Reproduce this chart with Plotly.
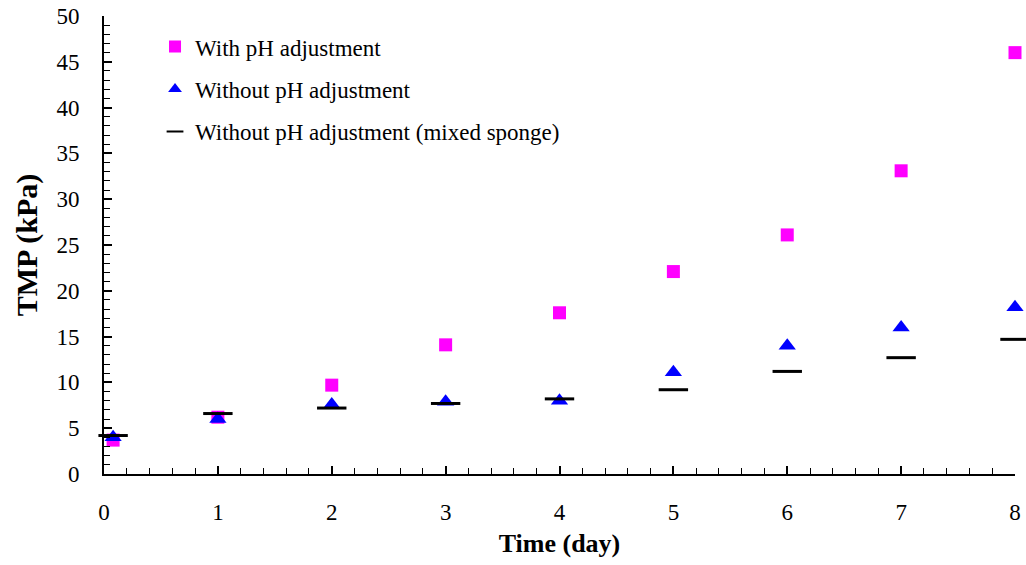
import plotly.graph_objects as go

days = [0.08, 1, 2, 3, 4, 5, 6, 7, 8]
with_ph = [3.7, 6.2, 9.7, 14.1, 17.6, 22.1, 26.1, 33.1, 46.0]
without_ph = [4.0, 6.0, 7.6, 7.9, 8.0, 11.1, 14.0, 16.0, 18.2]
without_ph_mixed = [4.2, 6.6, 7.2, 7.7, 8.2, 9.2, 11.2, 12.7, 14.7]

x_ticks = [0, 1, 2, 3, 4, 5, 6, 7, 8]
y_ticks = [0, 5, 10, 15, 20, 25, 30, 35, 40, 45, 50]

font_family = "Liberation Serif, Times New Roman, serif"

fig = go.Figure()
fig.add_trace(go.Scatter(
    x=days, y=with_ph, mode="markers", name="With pH adjustment",
    legendgroup="a", cliponaxis=False,
    marker=dict(symbol="square", size=13, color="#FF00FF"),
))
fig.add_trace(go.Scatter(
    x=days, y=without_ph, mode="markers", name="Without pH adjustment",
    legendgroup="b", cliponaxis=False,
    marker=dict(symbol="triangle-up", size=15, color="#0000FF"),
))
fig.add_trace(go.Scatter(
    x=days, y=without_ph_mixed, mode="markers",
    name="Without pH adjustment (mixed sponge)",
    legendgroup="c", cliponaxis=False,
    marker=dict(symbol="line-ew", size=21, color="black",
                line=dict(color="black", width=3)),
))

fig.update_layout(
    width=1026, height=565,
    margin=dict(l=104, r=11, t=16, b=91),
    plot_bgcolor="white", paper_bgcolor="white",
    font=dict(family=font_family, size=23, color="black"),
    showlegend=True,
    legend=dict(
        x=0.056, y=0.98, xanchor="left", yanchor="top",
        font=dict(family=font_family, size=23, color="black"),
        bgcolor="rgba(0,0,0,0)",
        traceorder="grouped", tracegroupgap=9.5,
        itemsizing="constant",
    ),
    xaxis=dict(
        range=[0, 8], tickmode="array", tickvals=x_ticks,
        ticktext=[str(v) for v in x_ticks],
        automargin=False,
        showline=True, linecolor="black", linewidth=2,
        ticks="inside", ticklen=8, tickwidth=1.5, tickcolor="black",
        minor=dict(dtick=0.2, ticks="inside", ticklen=6, tickwidth=1, tickcolor="black"),
        showgrid=False, zeroline=False,
        ticklabelstandoff=16,
        title=dict(text="<b>Time (day)</b>", font=dict(family=font_family, size=26), standoff=10),
        tickfont=dict(family=font_family, size=23),
    ),
    yaxis=dict(
        range=[0, 50], tickmode="array", tickvals=y_ticks,
        ticktext=[str(v) for v in y_ticks],
        automargin=False,
        showline=True, linecolor="black", linewidth=2,
        ticks="inside", ticklen=8, tickwidth=1.5, tickcolor="black",
        minor=dict(dtick=1, ticks="inside", ticklen=6, tickwidth=1, tickcolor="black"),
        showgrid=False, zeroline=False,
        ticklabelstandoff=18,
        title=dict(text="<b>TMP (kPa)</b>", font=dict(family=font_family, size=30), standoff=10),
        tickfont=dict(family=font_family, size=23),
    ),
)

fig.write_html("out.html")
